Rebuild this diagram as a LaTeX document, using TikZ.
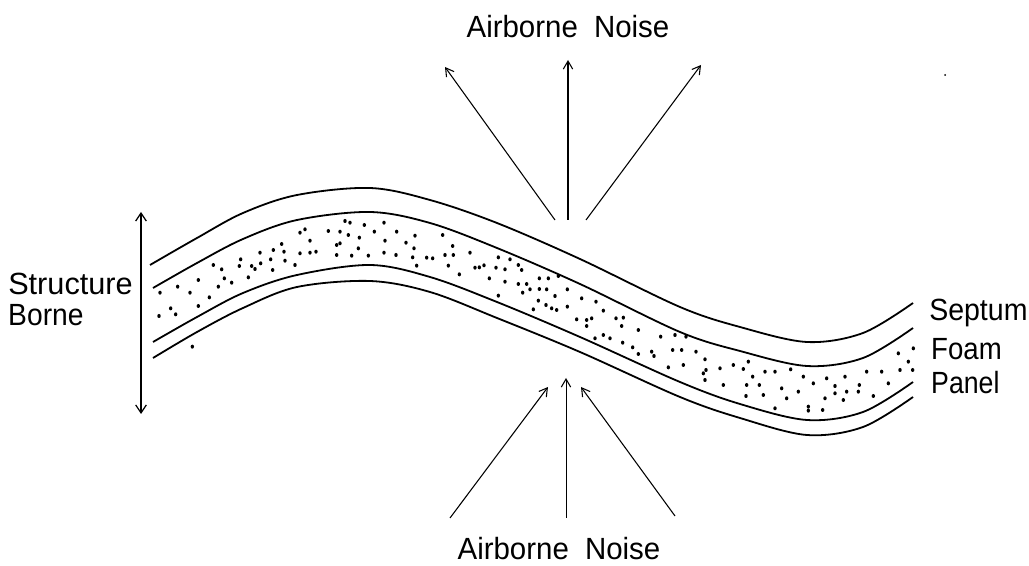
\documentclass[tikz,border=0pt]{standalone}
\usepackage{fontspec}
\setmainfont{Liberation Sans}
\usetikzlibrary{arrows.meta}
\tikzset{
  layer/.style={line width=1.35pt,line join=round,smooth,tension=0.55},
  noisearrow/.style={line width=0.8pt,-{Straight Barb[length=6pt,width=7pt,line width=0.8pt]}},
  boatarrow/.style={line width=1pt,{Straight Barb[length=6pt,width=8pt,line width=0.9pt]}-{Straight Barb[length=6pt,width=8pt,line width=0.9pt]}},
  lab/.style={inner sep=0pt,anchor=west,font=\fontsize{23}{26}\selectfont,transform shape},
  labc/.style={inner sep=0pt,font=\fontsize{23}{26}\selectfont,transform shape,xscale=0.96}
}
\begin{document}
\begin{tikzpicture}[x=0.75pt,y=-0.75pt]
\useasboundingbox (0,0) rectangle (1029,566);
\fill[white] (0,0) rectangle (1029,566);
% layers
\draw[layer] plot coordinates {(150,265)(197,238)(243,213)(297,195)(370,188)(430,200)(497,223)(580,259)(680,307)(740,327)(807,342)(863,333)(913,303)};
\draw[layer] plot coordinates {(153,288)(197,263)(243,239)(297,220)(370,212)(430,223)(497,248)(580,284)(680,332)(740,351)(807,366)(863,358)(913,328)};
\draw[layer] plot coordinates {(153,342)(197,317)(243,293)(297,275)(370,265)(430,277)(497,302)(580,337)(680,382)(740,404)(807,420)(863,412)(913,382)};
\draw[layer] plot coordinates {(153,358)(197,332)(243,308)(297,287)(370,281)(430,292)(497,318)(580,352)(680,397)(740,418)(807,435)(863,427)(913,397)};
% foam stipple, left part
\foreach \x/\y in {90/368,143/350,205/330,180/368,238/382,122/415,137/433,87/438,205/408,187/530,250/285,275/298,265/350,283/325,305/338,355/322,328/288,332/268,390/248,392/280,365/288,375/297,428/300,430/240,422/268,455/222,462/245,465/272,495/285,510/250,540/248,558/245,510/188,525/178,540/212,595/183,630/185,655/195,688/203,645/153,660/158,703/165,733/185,762/158,765/212,800/185,828/218,855/197,852/235,938/195,968/228,1020/248,620/255,665/257,715/257,762/248,798/255,848/262,890/263,908/265,945/255,970/255,860/287,955/287,988/313,1035/293,1048/292,1062/286,1098/293,1105/262,1140/268,1125/298,1165/285,1175/300,1078/325,1125/335,1165/342,1190/342,1200/358,1228/325,1255/325,1285/318,1312/358,1228/357,1250/358,1275/378,1178/368,1105/377,1225/392,1248/405,1265/415,1210/418,1280/420,1312/410,1340/448,630/220,620/225,685/235}
  \fill (130+\x/3,170+\y/3) ellipse (1.7 and 2);
% foam stipple, right part
\foreach \x/\y in {5/85,48/95,70/122,108/145,130/143,125/168,175/180,20/150,35/145,20/168,70/195,90/205,45/205,128/218,158/232,175/252,215/245,222/258,242/200,285/195,318/200,278/240,305/240,348/245,375/268,378/300,310/285,265/292,420/295,460/285,505/275,490/297,518/320,555/305,585/305,632/298,670/320,700/340,740/325,795/320,765/348,860/305,905/305,955/250,985/275,1000/235,960/300,998/300,925/340,838/345,835/365,880/378,800/365,765/370,735/385,790/390,728/420,685/410,685/422,655/365,605/355,620/385,585/415,550/375,538/345,500/345,498/378,430/345,375/330,370/310}
  \fill (580+\x/3,270+\y/3) ellipse (1.7 and 2);
\fill (945,75) circle (1);
% arrows
\coordinate (t1s) at (555,220); \coordinate (t1e) at (445,67);
\coordinate (t2s) at (568,220); \coordinate (t2e) at (568,60);
\coordinate (t3s) at (586,220); \coordinate (t3e) at (701,65);
\coordinate (b1s) at (450,518); \coordinate (b1e) at (548,387);
\coordinate (b2s) at (566,518); \coordinate (b2e) at (566,378);
\coordinate (b3s) at (675,516); \coordinate (b3e) at (581,387);
\coordinate (v1) at (141,212); \coordinate (v2) at (141,414);
\draw[noisearrow] (t1s) -- (t1e);
\draw[noisearrow,line width=1.1pt] (t2s) -- (t2e);
\draw[noisearrow] (t3s) -- (t3e);
\draw[noisearrow] (b1s) -- (b1e);
\draw[noisearrow,line width=0.65pt] (b2s) -- (b2e);
\draw[noisearrow] (b3s) -- (b3e);
\draw[boatarrow] (v1) -- (v2);
% labels
\node[labc] (airtop) at (568,27) {Airborne\hspace{0.55em}Noise};
\node[labc] (airbot) at (559,549) {Airborne\hspace{0.55em}Noise};
\node[lab] (struct) at (8,284) {Structure};
\node[lab,xscale=0.92] (borne) at (8,315) {Borne};
\node[lab,xscale=0.93] (septum) at (929,313) {Septum};
\node[lab,xscale=0.9] (foam) at (931,349) {Foam};
\node[lab,xscale=0.87] (panel) at (931,383) {Panel};
\end{tikzpicture}
\end{document}
